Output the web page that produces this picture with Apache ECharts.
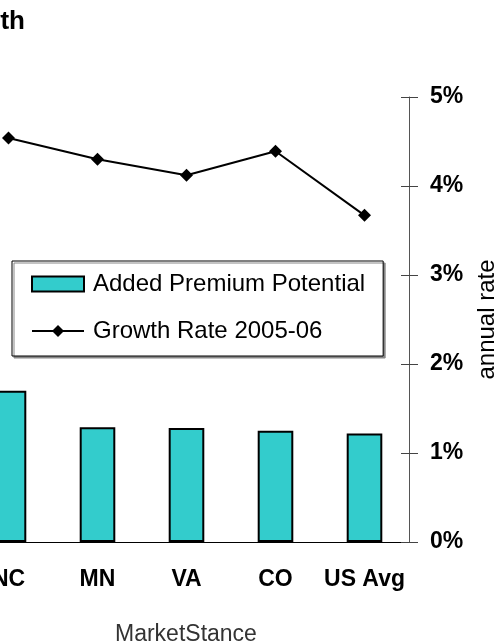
<!DOCTYPE html>
<html>
<head>
<meta charset="utf-8">
<script src="https://cdn.jsdelivr.net/npm/echarts@6/dist/echarts.min.js"></script>
<style>
  html, body { margin: 0; padding: 0; background: #fff; overflow: hidden; }
  /* the reference is a crop: the chart runs off the left edge */
  #main { position: absolute; left: -36px; top: 0; width: 534px; height: 643px; }
</style>
</head>
<body>
<div id="main"></div>
<script>
// categories on the x axis
var states = ['NC', 'MN', 'VA', 'CO', 'US Avg'];
// Added Premium Potential (bars), in %
var premiumPotential = [1.70, 1.29, 1.28, 1.25, 1.22];
// Growth Rate 2005-06 (line), in %
var growthRate = [4.54, 4.30, 4.12, 4.39, 3.67];
// right axis range
var rateMin = 0, rateMax = 5, rateStep = 1;

var font = 'Liberation Sans, Arial, sans-serif';

var myChart = echarts.init(document.getElementById('main'));

var option = {
    animation: false,
    title: {
        text: 'Premium Potential and Growth',
        right: 468,
        top: 4,
        textStyle: { fontFamily: font, fontSize: 26, fontWeight: 'bold', color: '#000' }
    },
    legend: {
        orient: 'vertical',
        left: 48,
        top: 261,
        padding: [11, 18, 13, 19],
        itemWidth: 52,
        itemHeight: 15,
        itemGap: 23,
        backgroundColor: '#fff',
        borderColor: '#000',
        borderWidth: 1,
        borderRadius: 0,
        shadowColor: '#888',
        shadowOffsetX: 2,
        shadowOffsetY: 2,
        shadowBlur: 0,
        textStyle: { fontFamily: font, fontSize: 24, lineHeight: 24, color: '#000', padding: [0, 0, 0, 4] },
        data: [{ name: 'Added Premium Potential', icon: 'rect' }, { name: 'Growth Rate 2005-06' }]
    },
    grid: { left: 0, right: 89, top: 97, bottom: 101, containLabel: false, outerBoundsMode: 'none' },
    xAxis: [{
        type: 'category',
        data: states,
        position: 'bottom',
        axisLine: { lineStyle: { color: '#000', width: 1 } },
        axisTick: { length: 8, lineStyle: { color: '#444' } },
        axisLabel: { interval: 0, margin: 26, fontFamily: font, fontSize: 23, fontWeight: 'bold', color: '#000' }
    }, {
        //second copy only for the tick halves that point up
        type: 'category',
        data: states,
        position: 'bottom',
        axisLine: { show: false },
        axisTick: { inside: true, length: 8, lineStyle: { color: '#444' } },
        axisLabel: { show: false }
    }],
    yAxis: [{
        type: 'value',
        position: 'right',
        min: rateMin,
        max: rateMax,
        interval: rateStep,
        name: 'annual rate',
        nameLocation: 'middle',
        nameRotate: 90,
        nameGap: 66,
        nameTextStyle: { fontFamily: font, fontSize: 24, color: '#000' },
        axisLine: { show: true, lineStyle: { color: '#555', width: 1 } },
        axisTick: { show: true, length: 9, lineStyle: { color: '#444' } },
        axisLabel: {
            margin: 21,
            formatter: '{value}%',
            fontFamily: font, fontSize: 23, fontWeight: 'bold', color: '#000'
        },
        splitLine: { show: false }
    }, {
        type: 'value',
        position: 'right',
        min: rateMin,
        max: rateMax,
        interval: rateStep,
        axisLine: { show: false },
        axisTick: { show: true, inside: true, length: 8, lineStyle: { color: '#444' } },
        axisLabel: { show: false },
        splitLine: { show: false }
    }],
    series: [{
        name: 'Added Premium Potential',
        type: 'bar',
        barWidth: '40%',
        data: premiumPotential,
        itemStyle: { color: '#33CCCC', borderColor: '#000', borderWidth: 2 }
    }, {
        name: 'Growth Rate 2005-06',
        type: 'line',
        data: growthRate,
        symbol: 'diamond',
        symbolSize: 13,
        lineStyle: { color: '#000', width: 2 },
        itemStyle: { color: '#000' }
    }],
    graphic: [{
        type: 'text',
        left: 222 - 71,
        top: 623,
        style: { text: 'MarketStance', fontFamily: font, fontSize: 23, fill: '#333' }
    }]
};

myChart.setOption(option);
</script>
</body>
</html>
